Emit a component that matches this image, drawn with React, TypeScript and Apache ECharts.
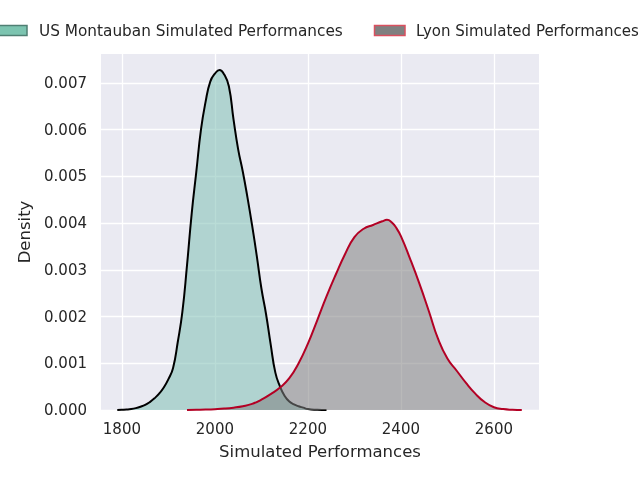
import React, { useEffect, useRef } from "react";
import * as echarts from "echarts";

const montaubanX = [1790, 1800, 1810, 1820, 1830, 1840, 1850, 1860, 1870, 1880, 1890, 1900, 1910, 1920, 1930, 1940, 1950, 1960, 1970, 1980, 1990, 2000, 2010, 2020, 2030, 2040, 2050, 2060, 2070, 2080, 2090, 2100, 2110, 2120, 2130, 2140, 2150, 2160, 2170, 2180, 2190, 2200, 2220, 2240];
const montaubanY = [0, 0.000005, 0.00001, 0.00002, 0.00004, 0.00007, 0.00011, 0.00017, 0.00025, 0.00035, 0.00048, 0.00066, 0.0009, 0.00145, 0.0021, 0.0031, 0.0042, 0.0051, 0.006, 0.0066, 0.00703, 0.0072, 0.00728, 0.00718, 0.00693, 0.00622, 0.00558, 0.0051, 0.00455, 0.00395, 0.0033, 0.0026, 0.00205, 0.0014, 0.0008, 0.0005, 0.0003, 0.00018, 0.00012, 0.00008, 0.00005, 0.00002, 0.000005, 0];

const lyonX = [1940, 1960, 1980, 2000, 2020, 2040, 2060, 2080, 2100, 2120, 2140, 2160, 2180, 2200, 2220, 2240, 2260, 2280, 2300, 2320, 2340, 2360, 2370, 2380, 2390, 2400, 2420, 2440, 2460, 2480, 2500, 2520, 2540, 2560, 2580, 2600, 2620, 2640, 2660];
const lyonY = [0, 0.000005, 0.00001, 0.000018, 0.00003, 0.00005, 0.00008, 0.00013, 0.00022, 0.00034, 0.00048, 0.00068, 0.001, 0.00142, 0.00192, 0.00243, 0.0029, 0.00334, 0.0037, 0.00388, 0.00396, 0.00404, 0.00407, 0.00402, 0.0039, 0.00372, 0.00323, 0.0027, 0.00212, 0.00152, 0.0011, 0.00084, 0.00058, 0.00035, 0.00017, 0.00006, 0.00002, 0.000005, 0];

const xTicks = [1800, 2000, 2200, 2400, 2600];
const yTicks = [0, 0.001, 0.002, 0.003, 0.004, 0.005, 0.006, 0.007];
const seriesNames = ["US Montauban Simulated Performances", "Lyon Simulated Performances"];

const FONT = "DejaVu Sans";
const TEXT = "#262626";

export default function App() {
  const ref = useRef<HTMLDivElement>(null);
  useEffect(() => {
    if (!ref.current) return;
    const chart = echarts.init(ref.current, null, { renderer: "svg" });
    const mData = montaubanX.map((x, i) => [x, montaubanY[i]]);
    const lData = lyonX.map((x, i) => [x, lyonY[i]]);
    chart.setOption({
      animation: false,
      grid: {
        left: 101,
        right: 101,
        top: 54,
        bottom: 70,
        show: true,
        backgroundColor: "#eaeaf2",
        borderWidth: 0,
      },
      xAxis: {
        type: "value",
        min: 1755,
        max: 2697,
        name: "Simulated Performances",
        nameLocation: "middle",
        nameGap: 33,
        nameTextStyle: { fontFamily: FONT, fontSize: 16.5, color: TEXT },
        axisLine: { show: false },
        axisTick: { show: false, customValues: xTicks },
        axisLabel: {
          customValues: xTicks,
          fontFamily: FONT,
          fontSize: 15,
          color: TEXT,
          margin: 11,
          formatter: (v: number) => String(v),
        },
        splitLine: { show: true, lineStyle: { color: "#ffffff", width: 1.3 } },
      },
      yAxis: {
        type: "value",
        min: 0,
        max: 0.00762,
        name: "Density",
        nameLocation: "middle",
        nameGap: 56,
        nameTextStyle: { fontFamily: FONT, fontSize: 16.5, color: TEXT },
        axisLine: { show: false },
        axisTick: { show: false, customValues: yTicks },
        axisLabel: {
          customValues: yTicks,
          fontFamily: FONT,
          fontSize: 15,
          color: TEXT,
          margin: 14,
          formatter: (v: number) => v.toFixed(3),
        },
        splitLine: { show: true, lineStyle: { color: "#ffffff", width: 1.3 } },
      },
      series: [
        {
          name: seriesNames[0],
          type: "line",
          data: mData,
          smooth: 0.5,
          showSymbol: false,
          symbol: "none",
          lineStyle: { color: "#000000", width: 2 },
          itemStyle: { color: "#7cc4b0" },
          areaStyle: { color: "#7fbfb5", opacity: 0.55 },
          z: 2,
        },
        {
          name: seriesNames[1],
          type: "line",
          data: lData,
          smooth: 0.5,
          showSymbol: false,
          symbol: "none",
          lineStyle: { color: "#b30024", width: 2 },
          itemStyle: { color: "#808080" },
          areaStyle: { color: "#808080", opacity: 0.55 },
          z: 3,
        },
      ],
      graphic: [
        {
          type: "rect",
          shape: { x: -3, y: 25.5, width: 30, height: 10 },
          style: { fill: "#7cc4b0", stroke: "#4f7f73", lineWidth: 1.5 },
        },
        {
          type: "text",
          x: 39,
          y: 31,
          style: {
            text: seriesNames[0],
            fontFamily: FONT,
            fontSize: 15.3,
            fill: TEXT,
            verticalAlign: "middle",
            align: "left",
          },
        },
        {
          type: "rect",
          shape: { x: 374.5, y: 25.5, width: 30.5, height: 10 },
          style: { fill: "#808080", stroke: "#d9505f", lineWidth: 1.5 },
        },
        {
          type: "text",
          x: 416,
          y: 31,
          style: {
            text: seriesNames[1],
            fontFamily: FONT,
            fontSize: 15,
            fill: TEXT,
            verticalAlign: "middle",
            align: "left",
          },
        },
      ],
    });
    return () => chart.dispose();
  }, []);
  return (
    <div
      ref={ref}
      style={{ position: "fixed", left: 0, top: 0, width: 640, height: 480 }}
    />
  );
}
